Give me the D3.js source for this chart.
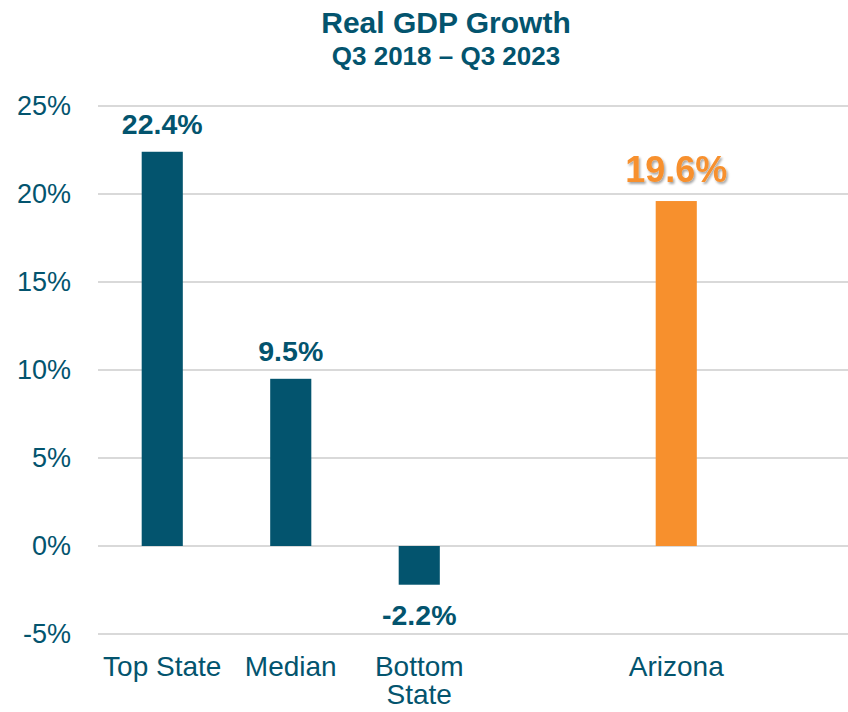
<!DOCTYPE html>
<html><head><meta charset="utf-8">
<script src="https://cdn.jsdelivr.net/npm/d3@7"></script>
<style>body{margin:0;background:#fff}svg{display:block}text{font-family:"Liberation Sans",Arial,sans-serif}</style>
</head><body><svg id="c" width="848" height="712"></svg>
<script>
const categories = ["Top State","Median","Bottom State","gap1","Arizona","gap2"];
const labels = [["Top State"],["Median"],["Bottom","State"],[],["Arizona"],[]];
const values = [22.4, 9.5, -2.2, null, 19.6, null];
const highlight = [false,false,false,false,true,false];
const yTicks = [-5,0,5,10,15,20,25];
const title = "Real GDP Growth";
const subtitle = "Q3 2018 \u2013 Q3 2023";

const teal = "#03546E", orange = "#F7902D", grid = "#D9D9D9";
const svg = d3.select("#c");
const x = d3.scaleBand().domain(categories).range([98, 869]).paddingInner(0.68).paddingOuter(0.34);
const y = d3.scaleLinear().domain([-5, 25]).range([634, 106]);

const defs = svg.append("defs");
const f = defs.append("filter").attr("id","sh").attr("x","-20%").attr("y","-20%").attr("width","140%").attr("height","160%");
f.append("feDropShadow").attr("dx",1.5).attr("dy",2).attr("stdDeviation",1).attr("flood-color","#000").attr("flood-opacity",0.35);

// gridlines
svg.append("g").selectAll("line").data(yTicks).join("line")
  .attr("x1",98).attr("x2",848).attr("y1",d=>y(d)).attr("y2",d=>y(d))
  .attr("stroke",grid).attr("stroke-width",2);

// y axis labels
const yAxis = d3.axisLeft(y).tickValues(yTicks).tickFormat(d=>d+"%").tickSize(0).tickPadding(0);
const ya = svg.append("g").attr("transform","translate(71,0)").call(yAxis);
ya.select(".domain").remove();
ya.selectAll("text").attr("fill",teal).style("font-size","27px").style("font-family","'Liberation Sans',Arial,sans-serif");

// bars
const data = categories.map((c,i)=>({c, v:values[i], h:highlight[i], l:labels[i]}));
const bd = data.filter(d=>d.v!==null);
svg.append("g").selectAll("rect").data(bd).join("rect")
  .attr("x",d=>x(d.c)).attr("width",x.bandwidth())
  .attr("y",d=>y(Math.max(0,d.v))).attr("height",d=>Math.abs(y(d.v)-y(0)))
  .attr("fill",d=>d.h?orange:teal);

// value labels
svg.append("g").selectAll("text").data(bd).join("text")
  .attr("x",d=>x(d.c)+x.bandwidth()/2)
  .attr("y",d=>d.v>=0 ? y(d.v)-(d.h?19:18) : y(d.v)+40)
  .attr("text-anchor","middle")
  .attr("fill",d=>d.h?orange:teal)
  .attr("font-weight","bold")
  .style("font-size",d=>d.h?"36px":"28.5px")
  .attr("filter",d=>d.h?"url(#sh)":null)
  .text(d=>d.v.toFixed(1)+"%");

// category labels
const cg = svg.append("g").selectAll("text").data(data).join("text")
  .attr("x",d=>x(d.c)+x.bandwidth()/2).attr("y",676)
  .attr("text-anchor","middle").attr("fill",teal).style("font-size","28px");
cg.selectAll("tspan").data(d=>d.l.map(t=>({t,x:x(d.c)+x.bandwidth()/2}))).join("tspan")
  .attr("x",d=>d.x).attr("dy",(d,i)=>i?28:0).text(d=>d.t);

// titles
svg.append("text").attr("x",446).attr("y",33).attr("text-anchor","middle")
  .attr("fill",teal).attr("font-weight","bold").style("font-size","30px").text(title);
svg.append("text").attr("x",446).attr("y",65).attr("text-anchor","middle")
  .attr("fill",teal).attr("font-weight","bold").style("font-size","26px").text(subtitle);
</script></body></html>
